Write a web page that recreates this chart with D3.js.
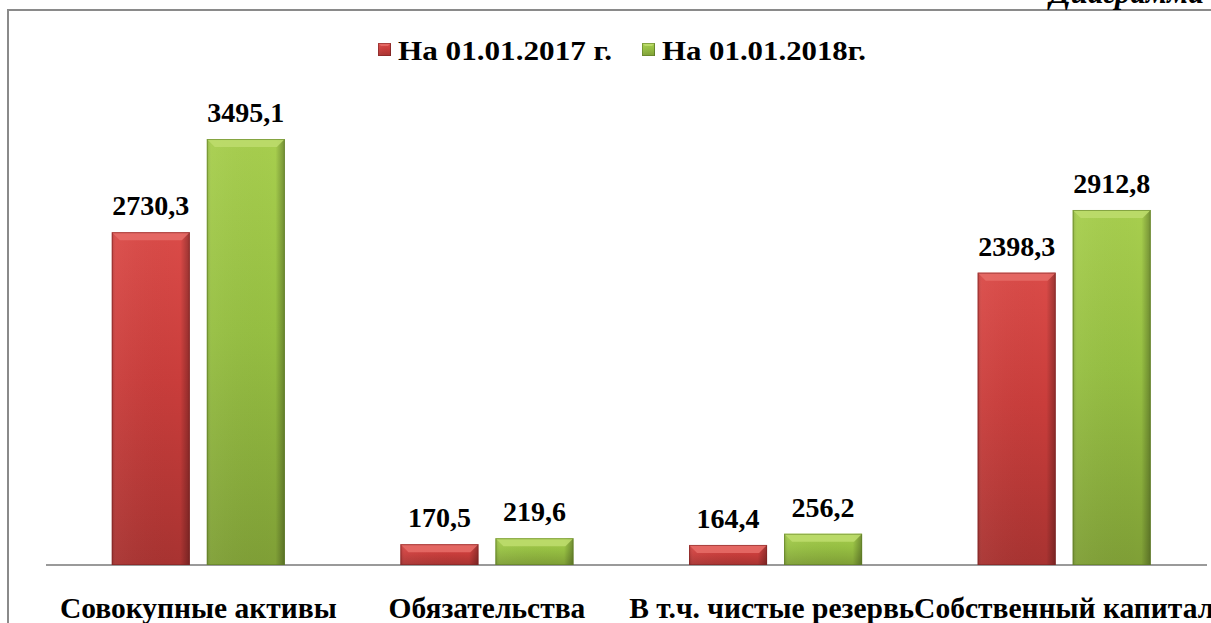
<!DOCTYPE html>
<html>
<head>
<meta charset="utf-8">
<script src="https://cdn.jsdelivr.net/npm/d3@7"></script>
<style>
  html, body { margin: 0; padding: 0; background: #fff; overflow: hidden; }
  svg { display: block; }
  text { font-family: "Liberation Serif", "Times New Roman", serif; font-weight: bold; fill: #000; }
</style>
</head>
<body>
<svg width="1211" height="623"></svg>
<script>
// data
const categories = ['Совокупные активы', 'Обязательства', 'В т.ч. чистые резервы', 'Собственный капитал'];
const seriesNames = ['На 01.01.2017 г.', 'На 01.01.2018г.'];
const values2017 = [2730.3, 170.5, 164.4, 2398.3];
const values2018 = [3495.1, 219.6, 256.2, 2912.8];
const valueLabels2017 = ['2730,3', '170,5', '164,4', '2398,3'];
const valueLabels2018 = ['3495,1', '219,6', '256,2', '2912,8'];

const FONT = '"Liberation Serif", "Times New Roman", serif';

let svg = d3.select('svg');
let width = 1211, height = 623;
let baseY = 565;

const palette = [
  { top: '#da4b48', mid: '#c93d3b', bot: '#a83331', edge: '#7a2322', bevel: '#e66a66' },
  { top: '#a7ce4e', mid: '#96bf42', bot: '#7f9f36', edge: '#5a7822', bevel: '#bcdc6c' }
];

let defs = svg.append('defs');
palette.forEach((p, i) => {
  let g = defs.append('linearGradient').attr('id', 'vg' + i)
    .attr('x1', 0).attr('y1', 0).attr('x2', 0).attr('y2', 1);
  g.append('stop').attr('offset', '0%').attr('stop-color', p.top);
  g.append('stop').attr('offset', '45%').attr('stop-color', p.mid);
  g.append('stop').attr('offset', '100%').attr('stop-color', p.bot);
});
// side shading
let hg = defs.append('linearGradient').attr('id', 'hg')
  .attr('x1', 0).attr('y1', 0).attr('x2', 1).attr('y2', 0);
hg.append('stop').attr('offset', '0%').attr('stop-color', '#000').attr('stop-opacity', 0.15);
hg.append('stop').attr('offset', '6%').attr('stop-color', '#fff').attr('stop-opacity', 0.04);
hg.append('stop').attr('offset', '88%').attr('stop-color', '#000').attr('stop-opacity', 0);
hg.append('stop').attr('offset', '100%').attr('stop-color', '#000').attr('stop-opacity', 0.3);

// frame
svg.append('line').attr('x1', 7).attr('x2', width).attr('y1', 10).attr('y2', 10)
  .attr('stroke', '#8a8a8a').attr('stroke-width', 2);
svg.append('line').attr('x1', 8).attr('x2', 8).attr('y1', 9).attr('y2', height)
  .attr('stroke', '#8a8a8a').attr('stroke-width', 2);

// heading, clipped by the top edge as in the source
svg.append('text')
  .attr('x', 1204).attr('y', 3)
  .attr('text-anchor', 'end')
  .style('font-family', FONT)
  .style('font-style', 'italic')
  .style('font-size', '31px')
  .text('Диаграмма');

// scales
let x0 = d3.scaleBand().domain(categories).range([54, 1208.5]);
let x1 = d3.scaleBand().domain(seriesNames).range([0, x0.bandwidth()])
  .paddingInner(0.179).paddingOuter(0.608);
let y = d3.scaleLinear().domain([0, 4000]).range([baseY, baseY - 4000 * 0.12188]);

let rows = categories.map((c, i) => ({
  cat: c,
  vals: [
    { s: seriesNames[0], v: values2017[i], label: valueLabels2017[i], k: 0 },
    { s: seriesNames[1], v: values2018[i], label: valueLabels2018[i], k: 1 }
  ]
}));

// axis line
svg.append('line').attr('x1', 46).attr('x2', 1207).attr('y1', baseY).attr('y2', baseY)
  .attr('stroke', '#9a9a9a').attr('stroke-width', 2);

let group = svg.selectAll('.cat')
  .data(rows)
  .enter().append('g')
  .attr('class', 'cat')
  .attr('transform', d => `translate(${x0(d.cat)},0)`);

let bar = group.selectAll('.bar')
  .data(d => d.vals)
  .enter().append('g')
  .attr('class', 'bar');

function drawBevelBox(sel, bx, by, bw, bh, k, bevel) {
  let p = palette[k];
  sel.append('rect').attr('x', bx).attr('y', by).attr('width', bw).attr('height', bh)
    .attr('fill', `url(#vg${k})`);
  sel.append('rect').attr('x', bx).attr('y', by).attr('width', bw).attr('height', bh)
    .attr('fill', 'url(#hg)');
  let b = Math.min(bevel, bh / 2);
  sel.append('polygon')
    .attr('points', [[bx, by], [bx + bw, by], [bx + bw - b, by + b], [bx + b, by + b]].join(' '))
    .attr('fill', p.bevel).attr('opacity', 0.9);
  sel.append('rect').attr('x', bx + 0.5).attr('y', by + 0.5).attr('width', bw - 1).attr('height', bh - 1)
    .attr('fill', 'none').attr('stroke', p.edge).attr('stroke-opacity', 0.55);
}

bar.each(function (d) {
  let bx = x1(d.s), bw = x1.bandwidth();
  let top = y(d.v);
  drawBevelBox(d3.select(this), bx, top, bw, baseY - top, d.k, 8);
});

bar.append('text')
  .attr('x', d => x1(d.s) + x1.bandwidth() / 2)
  .attr('y', d => y(d.v) - 17)
  .attr('text-anchor', 'middle')
  .style('font-family', FONT)
  .style('font-size', '28px')
  .text(d => d.label);

// category labels: each later label covers the one before it
let catLabel = svg.selectAll('.cat-label')
  .data(categories)
  .enter().append('g')
  .attr('class', 'cat-label');

catLabel.append('rect').attr('fill', '#fff');
catLabel.append('text')
  .attr('x', d => x0(d) + x0.bandwidth() / 2)
  .attr('y', 618)
  .attr('text-anchor', 'middle')
  .style('font-family', FONT)
  .style('font-size', '29.5px')
  .text(d => d);

catLabel.each(function () {
  let g = d3.select(this);
  let bb = g.select('text').node().getBBox();
  g.select('rect').attr('x', bb.x).attr('y', bb.y).attr('width', bb.width).attr('height', bb.height);
});

// legend
let legendX = [378, 642];
let legendW = [214, 204];
let legend = svg.selectAll('.legend')
  .data(seriesNames)
  .enter().append('g')
  .attr('class', 'legend')
  .attr('transform', (d, i) => `translate(${legendX[i]},43)`);

legend.each(function (d, i) {
  drawBevelBox(d3.select(this), 0, 0, 13, 13, i, 3);
});

legend.append('text')
  .attr('x', 20).attr('y', 17)
  .attr('textLength', (d, i) => legendW[i])
  .attr('lengthAdjust', 'spacingAndGlyphs')
  .style('font-family', FONT)
  .style('font-size', '28px')
  .text(d => d);
</script>
</body>
</html>
